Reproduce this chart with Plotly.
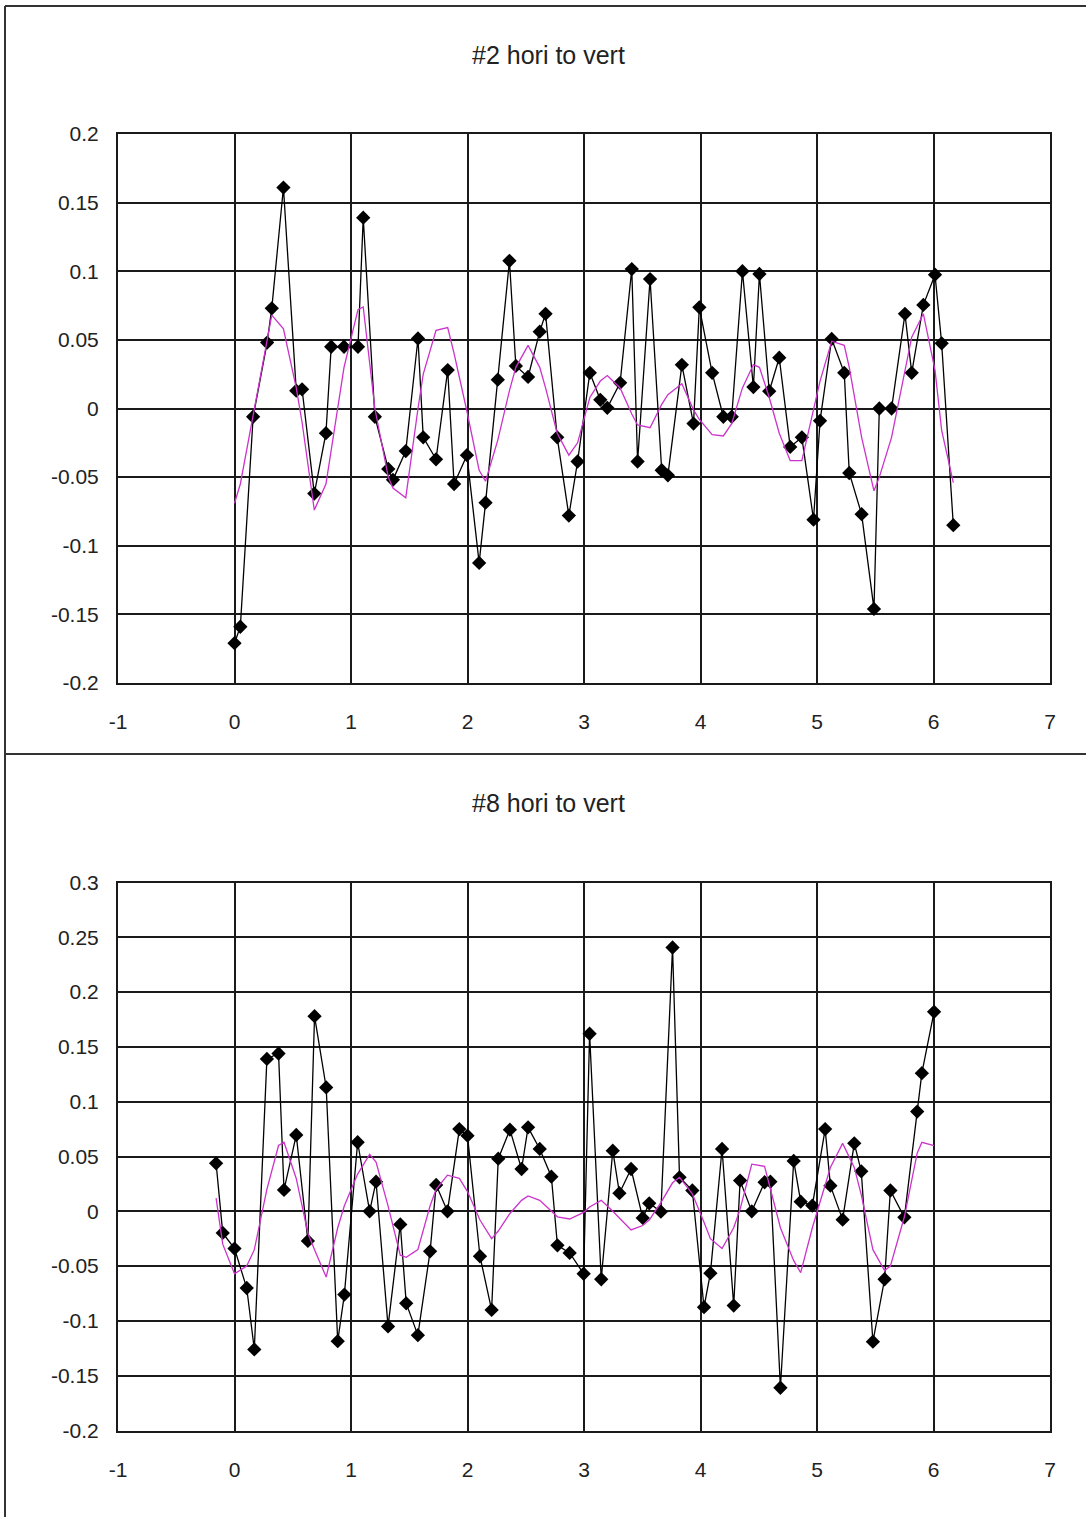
import plotly.graph_objects as go

# ---- #2 hori to vert ----
x_top = [0.00, 0.05, 0.16, 0.28, 0.32, 0.42, 0.53, 0.58, 0.685, 0.785,
         0.83, 0.94, 1.06, 1.105, 1.205, 1.32, 1.36, 1.47, 1.575, 1.62,
         1.73, 1.83, 1.885, 1.995, 2.10, 2.155, 2.26, 2.36, 2.415, 2.52,
         2.62, 2.67, 2.77, 2.87, 2.945, 3.05, 3.14, 3.20, 3.31, 3.41,
         3.46, 3.567, 3.667, 3.72, 3.84, 3.94, 3.99, 4.10, 4.196, 4.268,
         4.36, 4.454, 4.506, 4.59, 4.676, 4.77, 4.87, 4.97, 5.026, 5.126,
         5.234, 5.277, 5.383, 5.489, 5.535, 5.64, 5.755, 5.813, 5.913, 6.013,
         6.07, 6.17]
y_top = [-0.171, -0.159, -0.006, 0.048, 0.073, 0.161, 0.013, 0.014, -0.062, -0.018,
         0.045, 0.045, 0.045, 0.139, -0.006, -0.044, -0.052, -0.031, 0.051, -0.021,
         -0.037, 0.028, -0.055, -0.034, -0.1125, -0.0686, 0.021, 0.1076, 0.031, 0.023,
         0.056, 0.069, -0.021, -0.078, -0.0386, 0.026, 0.0063, 0.0005, 0.0187, 0.1016,
         -0.0386, 0.0943, -0.045, -0.0487, 0.0318, -0.011, 0.0737, 0.026, -0.006, -0.006,
         0.100, 0.0156, 0.098, 0.0126, 0.037, -0.028, -0.021, -0.081, -0.009, 0.0507,
         0.026, -0.047, -0.077, -0.146, 0.0, 0.0, 0.069, 0.026, 0.0755, 0.0975,
         0.0475, -0.085]
fit_top = [-0.069, -0.055, -0.005, 0.048, 0.068, 0.058, 0.015, -0.010, -0.074, -0.055,
           -0.030, 0.030, 0.072, 0.074, 0.000, -0.050, -0.058, -0.065, 0.000, 0.025,
           0.057, 0.059, 0.040, -0.002, -0.045, -0.053, -0.023, 0.013, 0.030, 0.046,
           0.030, 0.015, -0.018, -0.034, -0.025, 0.008, 0.020, 0.024, 0.015, -0.004,
           -0.012, -0.014, 0.003, 0.010, 0.018, -0.001, -0.008, -0.019, -0.020, -0.011,
           0.015, 0.032, 0.030, 0.008, -0.018, -0.038, -0.038, -0.002, 0.020, 0.049,
           0.046, 0.030, -0.021, -0.060, -0.050, -0.021, 0.028, 0.052, 0.069, 0.028,
           -0.016, -0.054]
y_ticks_top = [-0.2, -0.15, -0.1, -0.05, 0, 0.05, 0.1, 0.15, 0.2]

# ---- #8 hori to vert ----
x_bot = [-0.158, -0.101, 0.0, 0.105, 0.17, 0.278, 0.378, 0.425, 0.53, 0.63,
         0.687, 0.787, 0.886, 0.943, 1.057, 1.16, 1.215, 1.318, 1.423, 1.474,
         1.574, 1.679, 1.731, 1.828, 1.93, 2.0, 2.107, 2.207, 2.264, 2.364,
         2.464, 2.52, 2.62, 2.72, 2.772, 2.877, 2.997, 3.048, 3.148, 3.247,
         3.304, 3.404, 3.504, 3.56, 3.66, 3.76, 3.82, 3.93, 4.03, 4.085,
         4.185, 4.285, 4.34, 4.44, 4.55, 4.6, 4.686, 4.80, 4.86, 4.96,
         5.07, 5.115, 5.22, 5.32, 5.38, 5.48, 5.58, 5.63, 5.75, 5.86,
         5.9, 6.005]
y_bot = [0.0438, -0.0197, -0.034, -0.070, -0.126, 0.139, 0.144, 0.0195, 0.0696, -0.027,
         0.178, 0.113, -0.1185, -0.076, 0.063, 0.0, 0.027, -0.105, -0.012, -0.084,
         -0.113, -0.0365, 0.024, 0.0, 0.075, 0.069, -0.041, -0.090, 0.048, 0.0745,
         0.0386, 0.0766, 0.0569, 0.0316, -0.031, -0.038, -0.057, 0.162, -0.062, 0.0553,
         0.0165, 0.0386, -0.006, 0.0073, -0.0003, 0.2407, 0.031, 0.019, -0.0875, -0.0565,
         0.0569, -0.086, 0.028, 0.0, 0.0265, 0.027, -0.161, 0.046, 0.0088, 0.0052,
         0.075, 0.0234, -0.0076, 0.062, 0.0365, -0.119, -0.062, 0.019, -0.0055, 0.091,
         0.126, 0.182]
fit_bot = [0.012, -0.030, -0.057, -0.050, -0.035, 0.020, 0.060, 0.063, 0.030, -0.020,
           -0.035, -0.060, -0.015, 0.005, 0.034, 0.052, 0.045, 0.005, -0.040, -0.042,
           -0.035, 0.005, 0.020, 0.033, 0.030, 0.018, -0.008, -0.025, -0.018, -0.002,
           0.010, 0.014, 0.010, 0.000, -0.005, -0.007, -0.001, 0.004, 0.010, 0.000,
           -0.006, -0.017, -0.013, -0.008, 0.008, 0.026, 0.031, 0.016, -0.010, -0.025,
           -0.034, -0.015, 0.002, 0.043, 0.041, 0.020, -0.015, -0.045, -0.056, -0.015,
           0.025, 0.040, 0.062, 0.040, 0.015, -0.035, -0.054, -0.050, -0.005, 0.053,
           0.063, 0.060]
y_ticks_bot = [-0.2, -0.15, -0.1, -0.05, 0, 0.05, 0.1, 0.15, 0.2, 0.25, 0.3]

titles = ["#2 hori to vert", "#8 hori to vert"]
x_ticks = [-1, 0, 1, 2, 3, 4, 5, 6, 7]

W, H = 1086, 1517
FONT = "Liberation Sans Narrow, Arial Narrow, Liberation Sans, Arial, sans-serif"


def px_x(p):
    return p / W


def px_y(p):
    return 1 - p / H


def fmt(v):
    return "0" if v == 0 else f"{v:g}"


fig = go.Figure()

panels = [
    dict(x=x_top, y=y_top, fit=fit_top, yt=y_ticks_top,
         top=134, bottom=683, yr=[-0.2, 0.2], title=titles[0], ty=55),
    dict(x=x_bot, y=y_bot, fit=fit_bot, yt=y_ticks_bot,
         top=882.5, bottom=1430.5, yr=[-0.2, 0.3], title=titles[1], ty=803),
]

for i, p in enumerate(panels):
    suffix = "" if i == 0 else str(i + 1)
    fig.add_trace(go.Scatter(
        x=p["x"], y=p["y"], mode="lines+markers",
        line=dict(color="#000000", width=1.3),
        marker=dict(symbol="diamond", size=11, color="#000000"),
        xaxis="x" + suffix, yaxis="y" + suffix, showlegend=False))
    fig.add_trace(go.Scatter(
        x=p["x"], y=p["fit"], mode="lines",
        line=dict(color="#CC33CC", width=1.3),
        xaxis="x" + suffix, yaxis="y" + suffix, showlegend=False))

    axis_common = dict(showgrid=True, gridcolor="#1a1a1a", gridwidth=1.6,
                       showline=True, linecolor="#1a1a1a", linewidth=2,
                       mirror=True, zeroline=False, ticks="", automargin=False,
                       tickfont=dict(family=FONT, size=21, color="#222222"))
    fig.layout["xaxis" + suffix] = dict(
        domain=[px_x(118), px_x(1050)], range=[-1, 7],
        tickmode="array", tickvals=x_ticks, ticktext=[fmt(v) for v in x_ticks],
        anchor="y" + suffix, ticklabelstandoff=19, **axis_common)
    fig.layout["yaxis" + suffix] = dict(
        domain=[px_y(p["bottom"]), px_y(p["top"])], range=p["yr"],
        tickmode="array", tickvals=p["yt"], ticktext=[fmt(v) for v in p["yt"]],
        anchor="x" + suffix, ticklabelstandoff=13, **axis_common)
    fig.add_annotation(
        x=px_x(548), y=px_y(p["ty"]), xref="paper", yref="paper",
        xanchor="center", yanchor="middle",
        text=p["title"], showarrow=False,
        font=dict(family=FONT, size=25, color="#222222"))

# outer chart frames
frame = dict(type="line", xref="paper", yref="paper",
             line=dict(color="#333333", width=2))
fig.add_shape(x0=px_x(5), x1=1, y0=px_y(6), y1=px_y(6), **frame)
fig.add_shape(x0=px_x(5), x1=px_x(5), y0=0, y1=px_y(6), **frame)
fig.add_shape(x0=px_x(5), x1=1, y0=px_y(754), y1=px_y(754), **frame)

fig.update_layout(
    template="none",
    width=W, height=H, margin=dict(l=0, r=0, t=0, b=0, autoexpand=False),
    paper_bgcolor="#FFFFFF", plot_bgcolor="#FFFFFF",
    font=dict(family=FONT, color="#000000"),
)

fig.write_html("out.html")
